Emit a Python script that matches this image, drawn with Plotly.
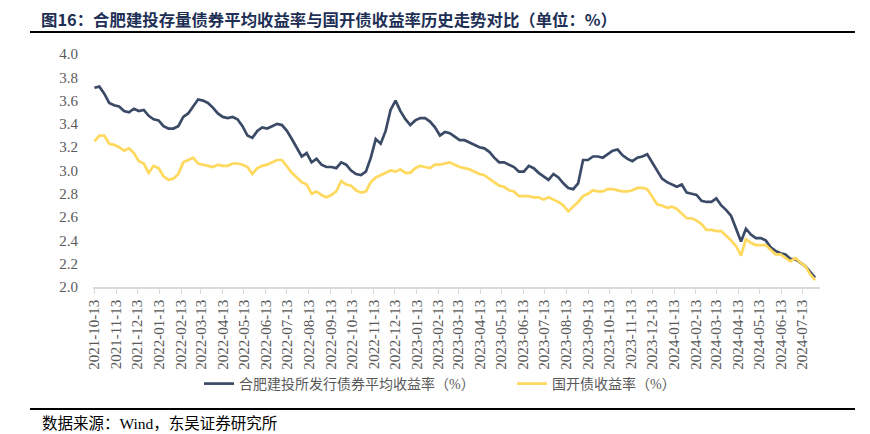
import plotly.graph_objects as go
import pandas as pd

start_date = "2021-10-13"

hefei_yield = [
    3.71, 3.72, 3.66, 3.58, 3.56, 3.55, 3.51, 3.50, 3.53, 3.51,
    3.52, 3.47, 3.44, 3.43, 3.38, 3.36, 3.36, 3.38, 3.46, 3.49,
    3.55, 3.61, 3.60, 3.58, 3.54, 3.49, 3.46, 3.45, 3.46, 3.44,
    3.38, 3.30, 3.28, 3.34, 3.37, 3.36, 3.38, 3.40, 3.39, 3.34,
    3.27, 3.19, 3.12, 3.15, 3.07, 3.10, 3.05, 3.03, 3.03, 3.02,
    3.07, 3.05, 3.00, 2.97, 2.96, 2.99, 3.11, 3.27, 3.23, 3.34,
    3.52, 3.60, 3.51, 3.44, 3.39, 3.43, 3.45, 3.45, 3.42, 3.37,
    3.30, 3.33, 3.32, 3.29, 3.26, 3.26, 3.24, 3.22, 3.20, 3.19,
    3.16, 3.11, 3.07, 3.07, 3.05, 3.03, 2.99, 2.99, 3.04, 3.02,
    2.98, 2.95, 2.92, 2.97, 2.94, 2.89, 2.85, 2.84, 2.89, 3.09,
    3.09, 3.12, 3.12, 3.11, 3.14, 3.17, 3.18, 3.13, 3.10, 3.08,
    3.11, 3.12, 3.14, 3.07, 3.01, 2.93, 2.90, 2.88, 2.86, 2.88,
    2.81, 2.80, 2.79, 2.74, 2.73, 2.73, 2.76, 2.70, 2.66, 2.61,
    2.50, 2.39, 2.50, 2.45, 2.42, 2.42, 2.40, 2.34, 2.31, 2.29,
    2.28, 2.24, 2.24, 2.21, 2.18, 2.13, 2.08,
]

cdb_yield = [
    3.25, 3.30, 3.30, 3.23, 3.22, 3.20, 3.17, 3.19, 3.15, 3.08,
    3.06, 2.98, 3.04, 3.02, 2.95, 2.92, 2.93, 2.97, 3.07, 3.09,
    3.11, 3.06, 3.05, 3.04, 3.03, 3.05, 3.04, 3.04, 3.06, 3.06,
    3.05, 3.03, 2.97, 3.02, 3.04, 3.05, 3.07, 3.09, 3.09, 3.04,
    2.98, 2.94, 2.90, 2.88, 2.80, 2.82, 2.79, 2.77, 2.79, 2.82,
    2.91, 2.88, 2.87, 2.83, 2.81, 2.82, 2.90, 2.94, 2.96, 2.98,
    3.00, 2.99, 3.01, 2.98, 2.98, 3.02, 3.04, 3.03, 3.02, 3.05,
    3.05, 3.06, 3.07, 3.05, 3.03, 3.02, 3.01, 2.99, 2.97, 2.96,
    2.93, 2.90, 2.87, 2.86, 2.83, 2.82, 2.78, 2.78, 2.78, 2.77,
    2.77, 2.75, 2.77, 2.75, 2.73, 2.70, 2.65, 2.69, 2.73, 2.78,
    2.80, 2.83, 2.82, 2.82, 2.84, 2.84, 2.83, 2.82, 2.82, 2.83,
    2.85, 2.85, 2.84, 2.78, 2.71, 2.70, 2.68, 2.69, 2.67, 2.63,
    2.59, 2.59, 2.57, 2.54, 2.49, 2.49, 2.48, 2.48, 2.44, 2.40,
    2.35, 2.27, 2.41, 2.38, 2.36, 2.36, 2.36, 2.32, 2.28, 2.28,
    2.25, 2.22, 2.25, 2.21, 2.18, 2.11, 2.06,
]

dates = pd.date_range(start_date, periods=len(hefei_yield), freq="7D")

tick_labels = [
    "2021-10-13", "2021-11-13", "2021-12-13", "2022-01-13", "2022-02-13",
    "2022-03-13", "2022-04-13", "2022-05-13", "2022-06-13", "2022-07-13",
    "2022-08-13", "2022-09-13", "2022-10-13", "2022-11-13", "2022-12-13",
    "2023-01-13", "2023-02-13", "2023-03-13", "2023-04-13", "2023-05-13",
    "2023-06-13", "2023-07-13", "2023-08-13", "2023-09-13", "2023-10-13",
    "2023-11-13", "2023-12-13", "2024-01-13", "2024-02-13", "2024-03-13",
    "2024-04-13", "2024-05-13", "2024-06-13", "2024-07-13",
]
y_ticks = [2.0, 2.2, 2.4, 2.6, 2.8, 3.0, 3.2, 3.4, 3.6, 3.8, 4.0]

series_names = ["合肥建投所发行债券平均收益率（%）", "国开债收益率（%）"]
title_text = "图16：合肥建投存量债券平均收益率与国开债收益率历史走势对比（单位：%）"
source_text = "数据来源：Wind，东吴证券研究所"

SERIF = "Liberation Serif"
CJK = "Liberation Serif, Noto Sans CJK SC"

# page body margin offsets the figure by 8px; lay out in window pixels
OFF = 8
FIG_W, FIG_H = 870 - OFF, 434 - OFF
L, R, T, B = 93 - OFF, 820 - OFF, 54 - OFF, 287 - OFF
W, H = R - L, B - T


def px(x):
    return (x - OFF - L) / W


def py(y):
    return (B - (y - OFF)) / H


fig = go.Figure()
fig.add_trace(go.Scatter(
    x=dates, y=hefei_yield, mode="lines", name=series_names[0],
    line=dict(color="#3b4a66", width=2.7), legend="legend",
))
fig.add_trace(go.Scatter(
    x=dates, y=cdb_yield, mode="lines", name=series_names[1],
    line=dict(color="#ffd85e", width=2.7), legend="legend2",
))

legend_common = dict(
    orientation="h", yanchor="middle", xanchor="left",
    font=dict(family=CJK, size=14, color="#595959"),
    itemwidth=30, bgcolor="rgba(0,0,0,0)",
)

fig.update_layout(
    width=FIG_W, height=FIG_H,
    margin=dict(l=L, r=FIG_W - R, t=T, b=FIG_H - B, autoexpand=False),
    paper_bgcolor="white", plot_bgcolor="white",
    showlegend=True,
    legend=dict(x=px(199), y=py(384), **legend_common),
    legend2=dict(x=px(512), y=py(384), **legend_common),
    xaxis=dict(
        type="date",
        range=["2021-10-11", "2024-08-07"],
        tickvals=tick_labels, ticktext=tick_labels,
        tickangle=-90,
        ticks="outside", ticklen=5, tickcolor="#d9d9d9", tickwidth=1,
        showline=True, linecolor="#d9d9d9", linewidth=1.5,
        showgrid=False, zeroline=False,
        tickfont=dict(family=SERIF, size=15, color="#595959"),
    ),
    yaxis=dict(
        range=[2.0, 4.0], tickvals=y_ticks,
        tickformat=".1f",
        showgrid=False, zeroline=False, showline=False,
        ticks="", ticklabelstandoff=14,
        tickfont=dict(family=SERIF, size=15, color="#595959"),
    ),
)

fig.add_annotation(
    text="<b>" + title_text + "</b>", xref="paper", yref="paper",
    x=px(40), y=py(19), xanchor="left", yanchor="middle", borderpad=0,
    showarrow=False, font=dict(family="Noto Sans CJK SC", size=16.4, color="#1e2f55"),
)
fig.add_annotation(
    text=source_text, xref="paper", yref="paper",
    x=px(40), y=py(423), xanchor="left", yanchor="middle",
    showarrow=False, font=dict(family=CJK, size=15.5, color="#000000"),
)
fig.add_shape(type="line", xref="paper", yref="paper",
              x0=px(30), x1=px(855), y0=py(32), y1=py(32),
              line=dict(color="#000000", width=2))
fig.add_shape(type="line", xref="paper", yref="paper",
              x0=px(30), x1=px(855), y0=py(409), y1=py(409),
              line=dict(color="#000000", width=2))

fig.write_html("out.html")
